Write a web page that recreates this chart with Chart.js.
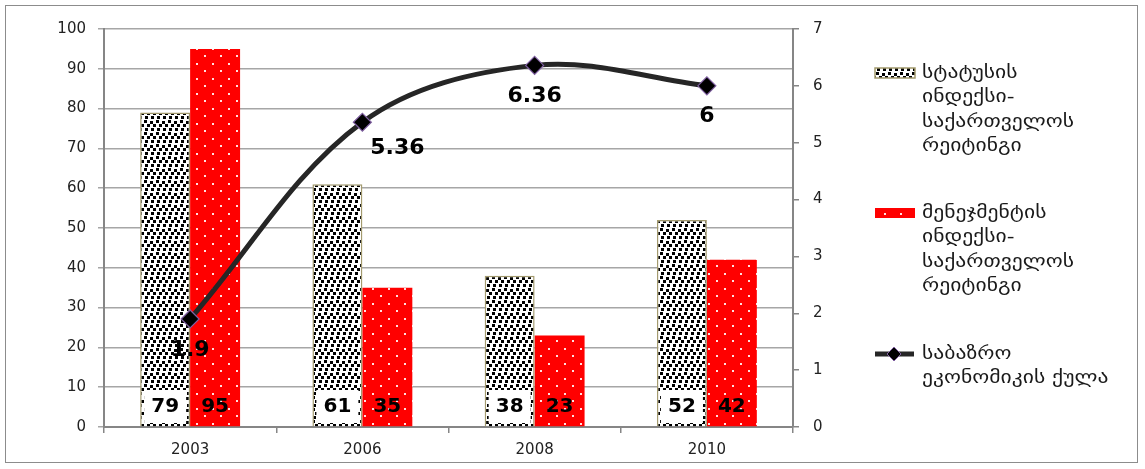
<!DOCTYPE html>
<html>
<head>
<style>
  html, body { margin: 0; padding: 0; background: #fff; }
  #wrap { position: relative; width: 1145px; height: 469px; }
</style>
</head>
<body>
<div id="wrap"><canvas id="chart"></canvas></div>
<script src="https://cdn.jsdelivr.net/npm/chart.js"></script>
<script>
const years = ['2003', '2006', '2008', '2010'];
const statusIndex = [79, 61, 38, 52];       // სტატუსის ინდექსი
const managementIndex = [95, 35, 23, 42];   // მენეჯმენტის ინდექსი
const marketScore = [1.9, 5.36, 6.36, 6];   // საბაზრო ეკონომიკის ქულა
const legendText = [
    ['სტატუსის', 'ინდექსი-', 'საქართველოს', 'რეიტინგი'],
    ['მენეჯმენტის', 'ინდექსი-', 'საქართველოს', 'რეიტინგი'],
    ['საბაზრო', 'ეკონომიკის ქულა']
];

const FONT = '"DejaVu Sans", Verdana, sans-serif';
const AXIS = '#868686';
const lineLabelShift = [[0, 31], [35, 26], [0, 31], [0, 30]];

const canvas = document.getElementById('chart');
const ctx = canvas.getContext('2d');

// black "confetti" squares on white
function confettiPattern() {
    const c = document.createElement('canvas');
    c.width = 12; c.height = 12;
    const g = c.getContext('2d');
    g.fillStyle = '#fff';
    g.fillRect(0, 0, 12, 12);
    g.fillStyle = '#000';
    [[0, 0], [6, 1], [3, 4], [9, 4], [1, 8], [7, 8]].forEach(p => g.fillRect(p[0], p[1], 3, 3));
    return ctx.createPattern(c, 'repeat');
}

// red with small white dots
function dotPattern() {
    const c = document.createElement('canvas');
    c.width = 16; c.height = 15;
    const g = c.getContext('2d');
    g.fillStyle = '#ff0000';
    g.fillRect(0, 0, 16, 15);
    g.fillStyle = '#ffe0e0';
    g.fillRect(4, 3, 2, 2);
    g.fillRect(12, 10, 2, 2);
    return ctx.createPattern(c, 'repeat');
}

const grayFill = confettiPattern();
const redFill = dotPattern();

const framePlugin = {
    id: 'frame',
    beforeDraw(chart) {
        const c = chart.ctx;
        c.save();
        c.fillStyle = '#fff';
        c.fillRect(0, 0, chart.width, chart.height);
        c.strokeStyle = '#8c8c8c';
        c.lineWidth = 1;
        c.strokeRect(5.5, 5.5, 1132, 457);
        c.restore();
    }
};

const labelPlugin = {
    id: 'valueLabels',
    afterDatasetsDraw(chart) {
        const c = chart.ctx;
        const zeroY = chart.scales.y.getPixelForValue(0);
        c.save();
        c.textAlign = 'center';
        c.textBaseline = 'middle';
        c.fillStyle = '#000';
        c.font = 'bold 20px ' + FONT;
        [0, 1].forEach(di => {
            const meta = chart.getDatasetMeta(di);
            meta.data.forEach((bar, i) => {
                const y = zeroY - 20;
                if (di === 0) {
                    c.fillStyle = '#fff';
                    c.fillRect(bar.x - 21, y - 17, 42, 33);
                    c.fillStyle = '#000';
                }
                c.fillText(String(chart.data.datasets[di].data[i]), bar.x, y);
            });
        });
        c.font = 'bold 22px ' + FONT;
        chart.getDatasetMeta(2).data.forEach((pt, i) => {
            c.fillText(String(marketScore[i]), pt.x + lineLabelShift[i][0], pt.y + lineLabelShift[i][1]);
        });
        c.restore();
    }
};

const legendPlugin = {
    id: 'sideLegend',
    afterDraw(chart) {
        const c = chart.ctx;
        const tops = [73, 213, 354];
        const lh = 24.5;
        c.save();
        // swatches
        c.fillStyle = grayFill;
        c.fillRect(875, 68, 40, 10);
        c.strokeStyle = '#a39a6e';
        c.lineWidth = 1.5;
        c.strokeRect(875, 68, 40, 10);
        c.fillStyle = redFill;
        c.fillRect(875, 208, 40, 10);
        c.strokeStyle = '#262626';
        c.lineWidth = 5;
        c.beginPath();
        c.moveTo(875, 354);
        c.lineTo(914, 354);
        c.stroke();
        c.beginPath();
        c.moveTo(894, 347);
        c.lineTo(901, 354);
        c.lineTo(894, 361);
        c.lineTo(887, 354);
        c.closePath();
        c.fillStyle = '#000';
        c.fill();
        c.strokeStyle = '#7f5fa0';
        c.lineWidth = 1;
        c.stroke();
        // text, slightly widened like the original
        c.fillStyle = '#1a1a1a';
        c.font = '18px ' + FONT;
        c.textAlign = 'left';
        c.textBaseline = 'middle';
        legendText.forEach((lines, k) => {
            lines.forEach((t, j) => {
                c.save();
                c.translate(922, tops[k] + j * lh);
                c.scale(1.2, 1);
                c.fillText(t, 0, 0);
                c.restore();
            });
        });
        c.restore();
    }
};

const tickFont = { family: FONT, size: 15 };

new Chart(ctx, {
    type: 'bar',
    data: {
        labels: years,
        datasets: [
            {
                label: legendText[0].join(' '),
                data: statusIndex,
                backgroundColor: grayFill,
                borderColor: '#a39a6e',
                borderWidth: 1.5,
                yAxisID: 'y',
                order: 1
            },
            {
                label: legendText[1].join(' '),
                data: managementIndex,
                backgroundColor: redFill,
                borderWidth: 0,
                yAxisID: 'y',
                order: 1
            },
            {
                type: 'line',
                label: legendText[2].join(' '),
                data: marketScore,
                yAxisID: 'y1',
                borderColor: '#262626',
                borderWidth: 5,
                tension: 0.35,
                fill: false,
                pointStyle: 'rectRot',
                pointRadius: 9,
                pointBackgroundColor: '#000',
                pointBorderColor: '#7f5fa0',
                pointBorderWidth: 1.2,
                order: 0
            }
        ]
    },
    options: {
        responsive: true,
        maintainAspectRatio: false,
        animation: false,
        layout: { padding: { left: 0, right: 272, top: 29, bottom: 0 } },
        datasets: {
            bar: { categoryPercentage: 0.58, barPercentage: 1 }
        },
        plugins: {
            legend: { display: false },
            tooltip: { enabled: false }
        },
        scales: {
            x: {
                grid: { offset: true, drawOnChartArea: false, tickLength: 6, color: AXIS, lineWidth: 1.5 },
                border: { color: AXIS, width: 2 },
                ticks: { font: tickFont, color: '#222', padding: 8 },
                afterFit(s) { s.height = 42; }
            },
            y: {
                position: 'left',
                min: 0,
                max: 100,
                ticks: { stepSize: 10, padding: 12, font: tickFont, color: '#222' },
                grid: { color: '#a6a6a6', lineWidth: 1.5, tickLength: 6 },
                border: { color: AXIS, width: 2 },
                afterFit(s) { s.width = 104; }
            },
            y1: {
                position: 'right',
                min: 0,
                max: 7,
                ticks: { stepSize: 1, padding: 14, font: tickFont, color: '#222' },
                grid: { drawOnChartArea: false, tickLength: 6, color: AXIS, lineWidth: 1.5 },
                border: { color: AXIS, width: 2 },
                afterFit(s) { s.width = 80; }
            }
        }
    },
    plugins: [framePlugin, labelPlugin, legendPlugin]
});
</script>
</body>
</html>
